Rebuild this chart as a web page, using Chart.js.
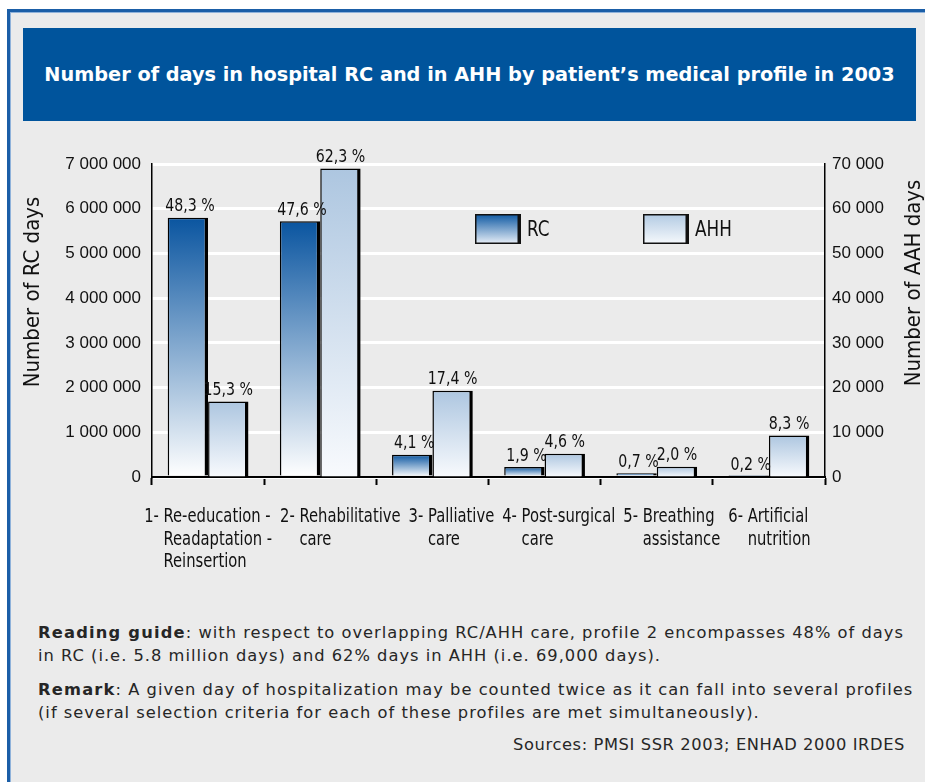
<!DOCTYPE html>
<html>
<head>
<meta charset="utf-8">
<script src="https://cdn.jsdelivr.net/npm/chart.js@4"></script>
<style>
  html, body { margin: 0; padding: 0; background: #ffffff; width: 925px; height: 782px; overflow: hidden; }
  #frame { position: absolute; left: 7px; top: 9px; width: 940px; height: 800px; background: #ebebeb;
           border-left: 3px solid #1b5ea7; border-top: 3px solid #1b5ea7; box-shadow: inset 1px 1px 0 #8fb2da; }
  #title { position: absolute; left: 23px; top: 28px; width: 893px; height: 93px; background: #00549c;
           color: #ffffff; font-family: "DejaVu Sans", sans-serif; font-weight: bold; font-size: 19.3px;
           display: flex; align-items: center; justify-content: center; }
  .note { position: absolute; left: 38px; font-family: "DejaVu Sans", sans-serif; font-size: 16.3px; color: #262626; line-height: 23px; letter-spacing: 1px; white-space: nowrap; }
  .note b { font-weight: bold; letter-spacing: 1.2px; }
  #src { position: absolute; right: 20px; top: 735px; font-family: "DejaVu Sans", sans-serif; font-size: 16.3px; color: #262626; letter-spacing: 0.6px; white-space: nowrap; }
  canvas { position: absolute; left: 0; top: 0; z-index: 2; }
</style>
</head>
<body>
<div id="frame"></div>
<div id="title">Number of days in hospital RC and in AHH by patient’s medical profile in 2003</div>
<div class="note" style="top:621px"><b>Reading guide</b>: with respect to overlapping RC/AHH care, profile 2 encompasses 48% of days<br>in RC (i.e. 5.8 million days) and 62% days in AHH (i.e. 69,000 days).</div>
<div class="note" style="top:678px"><b>Remark</b>: A given day of hospitalization may be counted twice as it can fall into several profiles<br>(if several selection criteria for each of these profiles are met simultaneously).</div>
<div id="src">Sources: PMSI SSR 2003; ENHAD 2000 IRDES</div>
<canvas id="c" width="925" height="782"></canvas>
<script>
// ---- Data ----
const categoryPrefixes = ["1-", "2-", "3-", "4-", "5-", "6-"];
const categoryLines = [
  ["Re-education -", "Readaptation -", "Reinsertion"],
  ["Rehabilitative", "care"],
  ["Palliative", "care"],
  ["Post-surgical", "care"],
  ["Breathing", "assistance"],
  ["Artificial", "nutrition"]
];
const rcDays = [5800000, 5720000, 500000, 225000, 85000, 25000];
const ahhDays = [16900, 69000, 19300, 5200, 2300, 9300];
const rcPctLabels = ["48,3 %", "47,6 %", "4,1 %", "1,9 %", "0,7 %", "0,2 %"];
const ahhPctLabels = ["15,3 %", "62,3 %", "17,4 %", "4,6 %", "2,0 %", "8,3 %"];
const seriesNames = ["RC", "AHH"];
const leftAxisTitle = "Number of RC days";
const rightAxisTitle = "Number of AAH days";
const leftTicksMax = 7000000, leftStep = 1000000;
const rightTicksMax = 70000, rightStep = 10000;

const FONT = '"DejaVu Sans Condensed", "DejaVu Sans", sans-serif';
const TICKFONT = '"Liberation Sans", Arial, sans-serif';

function fmt(v) { return String(v).replace(/\B(?=(\d{3})+(?!\d))/g, ' '); }

function barGradient(top, bottom) {
  return function (context) {
    const chart = context.chart;
    if (!chart.chartArea || context.type !== 'data') return top;
    const scale = chart.scales[context.dataset.yAxisID];
    const y0 = scale.getPixelForValue(context.raw);
    const y1 = scale.getPixelForValue(0);
    const g = chart.ctx.createLinearGradient(0, y0, 0, Math.max(y1, y0 + 1));
    g.addColorStop(0, top);
    g.addColorStop(1, bottom);
    return g;
  };
}

function textSX(ctx, text, x, y, sx) {
  ctx.save();
  ctx.translate(x, y);
  ctx.scale(sx, 1);
  ctx.fillText(text, 0, 0);
  ctx.restore();
}

const overlayPlugin = {
  id: 'overlay',
  afterDatasetsDraw(chart) {
    const ctx = chart.ctx;
    const area = chart.chartArea;
    ctx.save();
    ctx.fillStyle = '#111';
    // value labels
    ctx.font = '18px ' + FONT;
    ctx.textAlign = 'center';
    ctx.textBaseline = 'bottom';
    const labelSets = [rcPctLabels, ahhPctLabels];
    chart.data.datasets.forEach((ds, di) => {
      chart.getDatasetMeta(di).data.forEach((el, i) => {
        textSX(ctx, labelSets[di][i], el.x + (di === 0 ? 2 : 0), el.y - 2, 0.875);
      });
    });
    // category labels with hanging indent, centred under each category, nudged apart to avoid overlap
    const xs = chart.scales.x;
    const sx = 0.82, minGap = 8;
    ctx.font = '20px ' + FONT;
    ctx.textAlign = 'left';
    ctx.textBaseline = 'middle';
    let prevRight = -Infinity;
    categoryLines.forEach((lines, i) => {
      const cx = xs.getPixelForValue(i);
      const pw = ctx.measureText(categoryPrefixes[i] + ' ').width * sx;
      const lw = Math.max(...lines.map(l => ctx.measureText(l).width)) * sx;
      let x0 = cx - (pw + lw) / 2;
      if (x0 < prevRight + minGap) x0 = prevRight + minGap;
      prevRight = x0 + pw + lw;
      textSX(ctx, categoryPrefixes[i], x0, area.bottom + 40, sx);
      lines.forEach((l, j) => textSX(ctx, l, x0 + pw, area.bottom + 40 + j * 22.5, sx));
    });
    // legend
    const legendItems = [
      { name: seriesNames[0], x: area.left + 323, top: '#0d58a2', bottom: '#eaf0f8' },
      { name: seriesNames[1], x: area.left + 491, top: '#b2cae3', bottom: '#f6f9fc' }
    ];
    legendItems.forEach(it => {
      const y = 214, w = 46, h = 30;
      ctx.fillStyle = '#111';
      ctx.fillRect(it.x, y, w, h);
      const g = ctx.createLinearGradient(0, y, 0, y + h);
      g.addColorStop(0, it.top); g.addColorStop(1, it.bottom);
      ctx.fillStyle = g;
      ctx.fillRect(it.x + 1.5, y + 1.5, w - 5, h - 3);
      ctx.fillStyle = '#111';
      ctx.font = '22px ' + FONT;
      ctx.textAlign = 'left';
      ctx.textBaseline = 'middle';
      textSX(ctx, it.name, it.x + w + 6, y + h / 2 + 1, 0.85);
    });
    // axis titles
    ctx.font = '22px ' + FONT;
    ctx.textAlign = 'center';
    ctx.textBaseline = 'middle';
    ctx.save();
    ctx.translate(33, 292);
    ctx.rotate(-Math.PI / 2);
    ctx.fillText(leftAxisTitle, 0, 0);
    ctx.restore();
    ctx.save();
    ctx.translate(914, 283);
    ctx.rotate(-Math.PI / 2);
    ctx.fillText(rightAxisTitle, 0, 0);
    ctx.restore();
    ctx.restore();
  }
};

new Chart(document.getElementById('c'), {
  type: 'bar',
  data: {
    labels: categoryPrefixes,
    datasets: [
      { label: seriesNames[0], data: rcDays, yAxisID: 'y',
        backgroundColor: barGradient('#0a55a0', '#ffffff'),
        borderColor: '#000', borderWidth: { top: 1.5, left: 1.5, right: 3.5, bottom: 0 }, borderSkipped: false,
        categoryPercentage: 0.72, barPercentage: 1 },
      { label: seriesNames[1], data: ahhDays, yAxisID: 'y1',
        backgroundColor: barGradient('#adc6e0', '#f8fafd'),
        borderColor: '#000', borderWidth: { top: 1.5, left: 1.5, right: 3.5, bottom: 0 }, borderSkipped: false,
        categoryPercentage: 0.72, barPercentage: 1 }
    ]
  },
  options: {
    responsive: false,
    animation: false,
    layout: { padding: { top: 164, left: 0, right: 0, bottom: 0 } },
    plugins: { legend: { display: false }, tooltip: { enabled: false } },
    scales: {
      x: {
        afterFit(s) { s.height = 305; },
        ticks: { display: false },
        grid: { display: true, drawOnChartArea: false, drawTicks: true, tickLength: 8, tickColor: '#000', tickWidth: 2, color: '#000', offset: true },
        border: { display: true, color: '#000', width: 2 }
      },
      y: {
        position: 'left', min: 0, max: leftTicksMax,
        afterFit(s) { s.width = 152; },
        ticks: { stepSize: leftStep, padding: 11, color: '#111', font: { family: TICKFONT, size: 17 }, callback: v => fmt(v) },
        grid: { color: '#ffffff', lineWidth: 3, drawTicks: false },
        border: { display: true, color: '#000', width: 1.5 }
      },
      y1: {
        position: 'right', min: 0, max: rightTicksMax,
        afterFit(s) { s.width = 100; },
        ticks: { stepSize: rightStep, padding: 7, color: '#111', font: { family: TICKFONT, size: 17 }, callback: v => fmt(v) },
        grid: { drawOnChartArea: false, drawTicks: false },
        border: { display: true, color: '#000', width: 1.5 }
      }
    }
  },
  plugins: [overlayPlugin]
});
</script>
</body>
</html>
